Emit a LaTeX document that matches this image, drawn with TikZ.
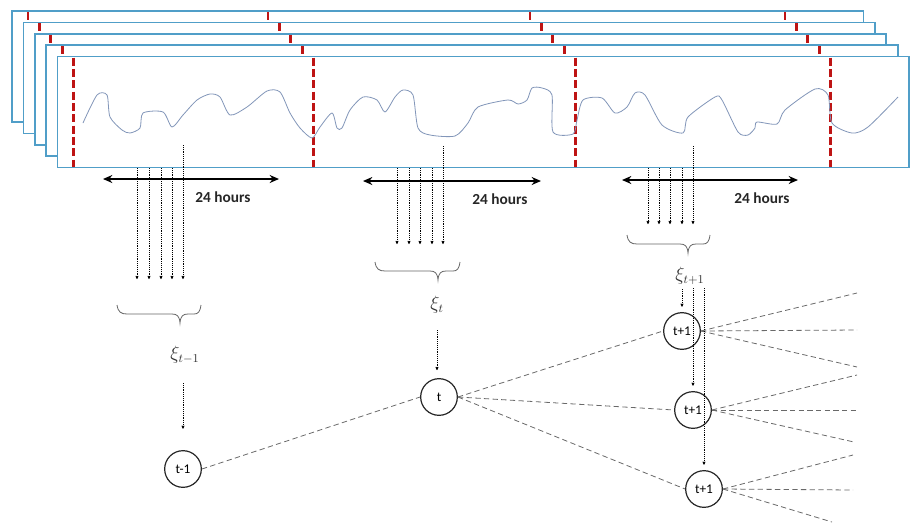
\documentclass[tikz,border=0pt]{standalone}
\usepackage{fontspec}
\setmainfont{Carlito}
\usetikzlibrary{arrows.meta}
\definecolor{frameblue}{RGB}{80,158,200}
\definecolor{tickred}{RGB}{190,20,20}
\definecolor{curveblue}{RGB}{130,150,185}
\definecolor{dashgray}{RGB}{105,105,105}
\begin{document}
\begin{tikzpicture}[x=0.75pt,y=-0.75pt,
  frame/.style={draw=frameblue,line width=1.3pt,fill=white},
  reddash/.style={draw=tickred,line width=2.2pt,dash pattern=on 6pt off 2.5pt},
  curve/.style={draw=curveblue,line width=0.6pt},
  harrow/.style={draw=black,line width=1.8pt,{Stealth[length=7pt,width=6pt]}-{Stealth[length=7pt,width=6pt]}},
  dotarrow/.style={draw=black,line width=0.6pt,dash pattern=on 0.7pt off 0.7pt,-{Stealth[length=3.5pt,width=3pt,round]}},
  hours/.style={font=\fontsize{11.5}{13}\selectfont\bfseries,text=black!85},
  xilabel/.style={font=\fontsize{13.5}{15}\selectfont,text=black!80},
  stage/.style={circle,draw=black!85,line width=0.9pt,fill=white,minimum size=27.5pt,inner sep=0pt,font=\fontsize{10}{12}\selectfont},
  tree/.style={draw=dashgray,line width=0.6pt,dash pattern=on 4pt off 2.5pt},
  bracestyle/.style={draw=black!60,line width=0.6pt}
]
\useasboundingbox (0,0) rectangle (910,522);

% stacked frames, back to front
\foreach \k in {0,...,4}{
  \pgfmathsetmacro\d{11.4*\k}
  \draw[frame] ({12+\d},{11+\d}) rectangle ({863.5+\d},{122+\d});
  \foreach \rx in {28,268,530,785}
    \draw[reddash] ({\rx+\d},{12+\d}) -- ({\rx+\d},{121+\d});
}

% time series curve in the front frame
\draw[curve] plot[smooth,tension=0.45] coordinates {
 (83,123) (97,95) (107,95) (110,117) (122,130) (130,133) (140,128) (143,113)
 (163,112) (172,127) (183,115) (197,100) (210,94) (220,97) (230,115) (247,107)
 (267,91) (280,92) (290,113) (300,128) (312,138) (320,127) (332,113) (337,128)
 (342,128) (350,110) (363,97) (377,100) (385,112) (395,97) (403,90) (413,95)
 (418,128) (430,135) (455,136) (468,123) (478,107) (508,100) (518,104) (527,100)
 (532,88) (542,88) (552,95) (553,132) (573,134) (577,120) (583,100) (602,98)
 (615,113) (627,107) (635,93) (645,95) (662,125) (683,133) (688,117) (715,97)
 (722,100) (738,132) (748,135) (755,128) (757,122) (777,124) (785,110) (815,89)
 (828,95) (832,123) (852,133) (868,127) (898,97)};

% 24 hours double arrows
\coordinate (h1a) at (103,179); \coordinate (h1b) at (279,179);
\coordinate (h2a) at (363,181); \coordinate (h2b) at (541,181);
\coordinate (h3a) at (622,180); \coordinate (h3b) at (798,180);
\draw[harrow] (h1a) -- (h1b);
\draw[harrow] (h2a) -- (h2b);
\draw[harrow] (h3a) -- (h3b);
\node[hours] (lab1) at (223,197) {24 hours};
\node[hours] (lab2) at (500,199) {24 hours};
\node[hours] (lab3) at (762,198) {24 hours};

% dotted sampling arrows
\foreach \x/\ys in {137/168,149/168,161/168,172/168,183/145}{
  \coordinate (s1t\x) at (\x,\ys); \coordinate (s1b\x) at (\x,279);
  \draw[dotarrow] (s1t\x) -- (s1b\x);}
\foreach \x/\ys in {397/168,409/168,420/168,432/168,443/146}{
  \coordinate (s2t\x) at (\x,\ys); \coordinate (s2b\x) at (\x,244);
  \draw[dotarrow] (s2t\x) -- (s2b\x);}
\foreach \x/\ys in {648/168,659/168,670/168,682/168,693/146}{
  \coordinate (s3t\x) at (\x,\ys); \coordinate (s3b\x) at (\x,224);
  \draw[dotarrow] (s3t\x) -- (s3b\x);}

% braces
\newcommand\mybrace[4]{% left, right, tip x, top y
  \draw[bracestyle] (#1,#4) .. controls ({#1+1},{#4+7}) and ({#1+4},{#4+9}) .. ({#1+10},{#4+9})
    -- ({#3-8},{#4+9}) .. controls ({#3-3},{#4+9}) and ({#3-0.5},{#4+11}) .. (#3,{#4+18})
    .. controls ({#3+0.5},{#4+11}) and ({#3+3},{#4+9}) .. ({#3+8},{#4+9})
    -- ({#2-7},{#4+9}) .. controls ({#2-3},{#4+9}) and ({#2-1},{#4+7}) .. (#2,#4);}
\mybrace{117}{201}{180}{305}
\mybrace{375}{460}{438}{262}
\mybrace{627}{710}{688}{235}

% xi labels
\node[xilabel] (xi1) at (185,355) {$\xi_{t-1}$};
\node[xilabel] (xi2) at (437,305) {$\xi_{t}$};
\node[xilabel] (xi3) at (690,276) {$\xi_{t+1}$};

% tree edge end points
\coordinate (e11) at (857,293); \coordinate (e12) at (857,330); \coordinate (e13) at (857,367);
\coordinate (e21) at (857,375); \coordinate (e22) at (857,410); \coordinate (e23) at (854,442);
\coordinate (e31) at (853,455); \coordinate (e32) at (853,490); \coordinate (e33) at (832,522);

% stage nodes
\node[stage] (tm1) at (183,469) {t-1};
\node[stage] (tt) at (439,397) {t};
\node[stage] (n1) at (682,331) {t+1};
\node[stage] (n2) at (693,410) {t+1};
\node[stage] (n3) at (704,489) {t+1};

% tree edges
\draw[tree] (tm1.east) -- (tt.west);
\draw[tree] (tt.east) -- (n1.west);
\draw[tree] (tt.east) -- (n2.west);
\draw[tree] (tt.east) -- (n3.west);
\foreach \i in {1,2,3}{
  \draw[tree] (n1.east) -- (e1\i);
  \draw[tree] (n2.east) -- (e2\i);
  \draw[tree] (n3.east) -- (e3\i);}

% dotted arrows from xi labels to stage nodes
\coordinate (a1) at (183,383);
\draw[dotarrow,shorten >=16pt] (a1) -- (a1 |- tm1.north);
\coordinate (a2) at (437,330);
\draw[dotarrow,shorten >=6pt] (a2) -- (a2 |- tt.north);
\coordinate (a3) at (682,289);
\draw[dotarrow,shorten >=4pt] (a3) -- (a3 |- n1.north);
\coordinate (a4) at (693,288);
\draw[dotarrow,shorten >=4pt] (a4) -- (a4 |- n2.north);
\coordinate (a5) at (704,288);
\draw[dotarrow,shorten >=4pt] (a5) -- (a5 |- n3.north);
\end{tikzpicture}
\end{document}
